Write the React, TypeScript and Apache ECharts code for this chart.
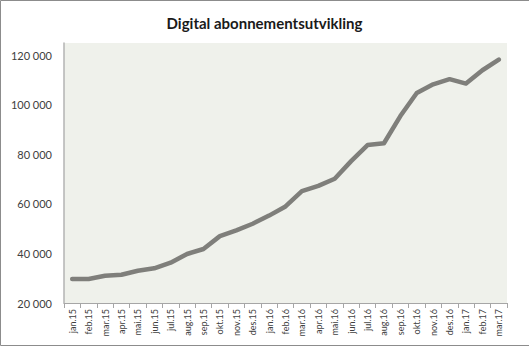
import React, { useEffect, useRef } from "react";
import * as echarts from "echarts";

const months = [
  "jan.15", "feb.15", "mar.15", "apr.15", "mai.15", "jun.15", "jul.15", "aug.15", "sep.15", "okt.15", "nov.15", "des.15",
  "jan.16", "feb.16", "mar.16", "apr.16", "mai.16", "jun.16", "jul.16", "aug.16", "sep.16", "okt.16", "nov.16", "des.16",
  "jan.17", "feb.17", "mar.17",
];
const subscribers = [
  29700, 29700, 31000, 31400, 33000, 34000, 36300, 39800, 41800, 47000, 49300, 52000,
  55300, 59000, 65200, 67300, 70200, 77300, 83800, 84500, 95500, 104800, 108300, 110400,
  108600, 114000, 118300,
];
const yTicks = [20000, 40000, 60000, 80000, 100000, 120000];
const title = "Digital abonnementsutvikling";

const fmt = (v: number) => {
  const s = String(Math.round(v));
  return s.replace(/\B(?=(\d{3})+(?!\d))/g, " ");
};

export default function App() {
  const ref = useRef<HTMLDivElement>(null);
  useEffect(() => {
    if (!ref.current) return;
    const chart = echarts.init(ref.current, null, { renderer: "svg" });
    chart.setOption({
      animation: false,
      backgroundColor: "#ffffff",
      title: {
        text: title,
        left: "center",
        top: 10,
        textStyle: { fontFamily: "Lato", fontWeight: "bold", fontSize: 15, color: "#1a1a1a" },
      },
      graphic: [
        {
          type: "rect",
          shape: { x: 0.5, y: 0.5, width: 540, height: 345 },
          style: { fill: "none", stroke: "#8c8c8c", lineWidth: 1 },
          silent: true,
        },
      ],
      grid: {
        left: 64,
        right: 22,
        top: 43,
        bottom: 44,
        show: true,
        backgroundColor: "#eff1eb",
        borderWidth: 0,
      },
      xAxis: {
        type: "category",
        data: months,
        boundaryGap: true,
        axisLine: { show: true, lineStyle: { color: "#a6a6a6", width: 1 } },
        axisTick: { show: true, alignWithLabel: false, length: 5, lineStyle: { color: "#a6a6a6" } },
        axisLabel: {
          interval: 0,
          rotate: 90,
          fontFamily: "Lato",
          fontSize: 9,
          color: "#404040",
          margin: 6,
        },
      },
      yAxis: {
        type: "value",
        min: 20000,
        max: 125000,
        interval: 20000,
        axisLine: { show: true, lineStyle: { color: "#b3b3b3", width: 1.5 } },
        axisTick: { show: false },
        splitLine: { show: false },
        axisLabel: {
          fontFamily: "Lato",
          fontSize: 11,
          color: "#404040",
          margin: 12,
          formatter: (v: number) => (yTicks.includes(v) ? fmt(v) : ""),
        },
      },
      series: [
        {
          type: "line",
          data: subscribers,
          symbol: "none",
          smooth: false,
          lineStyle: { color: "#7f7f7b", width: 4.5, cap: "round", join: "round" },
        },
      ],
    });
    return () => chart.dispose();
  }, []);
  return (
    <div
      ref={ref}
      style={{ position: "absolute", left: 0, top: 0, width: 529, height: 347 }}
    />
  );
}
